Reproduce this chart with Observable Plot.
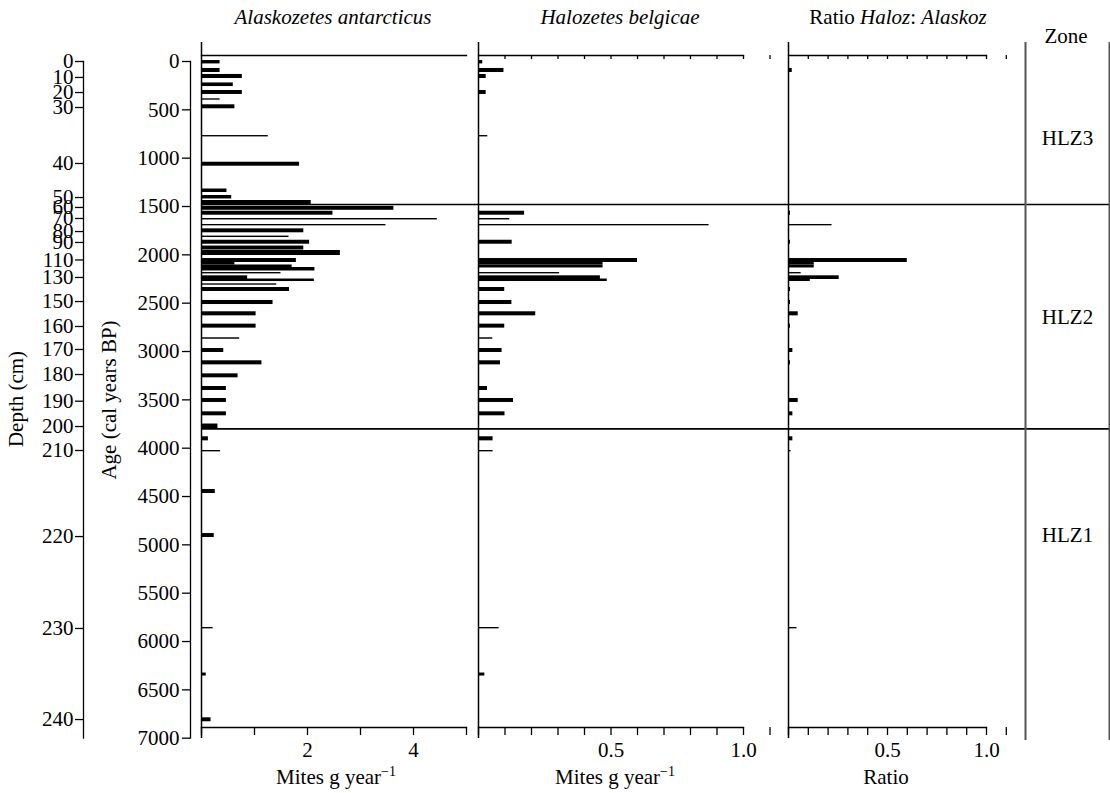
<!DOCTYPE html>
<html><head><meta charset="utf-8">
<script src="https://cdn.jsdelivr.net/npm/d3@7"></script>
<script src="https://cdn.jsdelivr.net/npm/@observablehq/plot@0.6"></script>
<style>
body{margin:0;background:#fff;}
#chart{position:relative;width:1110px;height:793px;}
#chart svg{position:absolute;left:0;top:0;overflow:visible;font-family:"Liberation Serif",serif !important;font-size:21px !important;}
#chart svg text, #chart svg tspan{font-family:"Liberation Serif",serif !important;}
#chart svg tspan.sup{font-size:14px !important;}
</style></head><body><div id="chart"></div>
<script>
const W = 1110, H = 793;
// Sample age intervals (cal years BP)
const sampleAgeTop    = [-10, 72,134,222,300,386,448,766,1042,1319,1386,1438,1498,1549,1624,1686,1731,1806,1849,1909,1955,2038,2079,2105,2131,2183,2217,2250,2300,2338,2472,2589,2717,2858,2969,3096,3231,3362,3486,3624,3750,3882,4024,4427,4883,5855,6326,6789];
const sampleAgeBottom = [ 25,114,176,259,341,400,489,780,1083,1355,1422,1490,1539,1590,1639,1700,1772,1821,1890,1950,2007,2079,2105,2136,2167,2197,2255,2276,2314,2379,2514,2631,2758,2873,3010,3138,3272,3403,3527,3665,3802,3924,4038,4469,4924,5869,6357,6830];
// Alaskozetes antarcticus (mites g year-1)
const alaskozetes = [0.35,0.35,0.77,0.60,0.77,0.35,0.63,1.26,1.85,0.48,0.57,2.07,3.63,2.48,4.45,3.48,1.93,1.65,2.04,1.93,2.62,1.79,0.63,1.71,2.14,1.50,0.87,2.13,1.42,1.66,1.35,1.03,1.03,0.72,0.42,1.14,0.69,0.47,0.47,0.47,0.31,0.13,0.36,0.26,0.24,0.22,0.09,0.18];
// Halozetes belgicae (mites g year-1)
const halozetes = [0.016,0.096,0.029,0,0.029,0,0,0.035,0,0,0,0,0,0.174,0.118,0.87,0,0,0.127,0,0,0.60,0.47,0.47,0,0.306,0.46,0.486,0,0.099,0.126,0.216,0.099,0.054,0.089,0.083,0,0.034,0.132,0.10,0,0.055,0.055,0,0,0.078,0.024,0];
// Ratio Haloz : Alaskoz
const ratio = [0,0.019,0,0,0,0,0,0,0,0,0,0,0,0.01,0,0.22,0,0,0.01,0,0,0.60,0.13,0.13,0,0.064,0.256,0.11,0,0.01,0.01,0.049,0.01,0,0.022,0.01,0,0,0.049,0.022,0,0.022,0.013,0,0,0.043,0.005,0];

const ageTicks = [0,500,1000,1500,2000,2500,3000,3500,4000,4500,5000,5500,6000,6500,7000];
const depthLabels = [0,10,20,30,40,50,60,70,80,90,110,130,150,160,170,180,190,200,210,220,230,240];
const depthAges   = [0,165,321,476,1055,1407,1510,1624,1759,1872,2053,2234,2483,2741,2979,3238,3514,3776,4024,4914,5865,6807];
const alaskTicks = [0,1,2,3,4,5];
const alaskTickLabels = [2,4];
const fracTicks = [0,0.1,0.2,0.3,0.4,0.5,0.6,0.7,0.8,0.9,1.0,1.1];
const fracTopTicks = [0.1,0.2,0.3,0.4,0.5,0.6,0.7,0.8,0.9,1.0,1.1];
const fracTickLabels = [0.5,1.0];
const zoneBoundaryAges = [1480,3800];
const zoneNames = ["HLZ3","HLZ2","HLZ1"];
const zoneLabelAges = [797,2648,4903];

const samples = sampleAgeTop.map((t,i)=>({top:t, bottom:sampleAgeBottom[i], a:alaskozetes[i], h:halozetes[i], r:ratio[i]}));

const FONT = "'Liberation Serif', serif";
const baseStyle = {background:"transparent", fontFamily:FONT, fontSize:"21px", color:"black", overflow:"visible"};
const Y = {domain:[0,7000], range:[61,737.7], axis:null};
const chart = document.getElementById("chart");

function panel(key, domain, left, right, bottomTicks, labelVals, fmt, topTicks) {
  const marks = [
    Plot.rect(samples, {filter:d=>d[key]>0, x1:0, x2:d=>d[key], y1:"top", y2:"bottom", fill:"black"}),
    Plot.frame({anchor:"top", stroke:"black", strokeWidth:1.3}),
    Plot.frame({anchor:"bottom", stroke:"black", strokeWidth:1.3}),
    Plot.ruleX([domain[0]], {stroke:"black", strokeWidth:1.5, insetTop:-13, insetBottom:-11}),
    Plot.axisX({anchor:"bottom", ticks:bottomTicks, tickSize:8, tickPadding:7, label:null, strokeWidth:1.3,
      fontFamily:FONT, fontSize:21, tickFormat:d=>labelVals.includes(d)?fmt(d):""})
  ];
  if (topTicks) marks.push(Plot.tickX(topTicks, {x:d=>d, stroke:"black", strokeWidth:1.3, insetBottom:668}));
  return Plot.plot({
    width:W, height:H, marginLeft:left, marginRight:W-right, marginTop:55, marginBottom:66,
    x:{domain, axis:null}, y:Y, style:baseStyle, marks
  });
}

chart.append(panel("a",[0,5],201,466,alaskTicks,alaskTickLabels,d=>String(d),null));
chart.append(panel("h",[0,1],478,743,fracTicks,fracTickLabels,d=>d.toFixed(1),fracTopTicks));
chart.append(panel("r",[0,1],788,986,fracTicks,fracTickLabels,d=>d.toFixed(1),fracTopTicks));

// Age axis
chart.append(Plot.plot({
  width:W, height:H, marginLeft:190, marginRight:W-191, marginTop:61, marginBottom:H-737.7,
  y:Y, x:{axis:null}, style:baseStyle,
  marks:[
    Plot.frame({anchor:"left", stroke:"black", strokeWidth:1.3}),
    Plot.axisY({anchor:"left", ticks:ageTicks, tickSize:8, tickPadding:3, label:null, strokeWidth:1.3,
      fontFamily:FONT, fontSize:21, tickFormat:d=>String(d)})
  ]
}));
// Depth axis
const depthOf = new Map(depthAges.map((a,i)=>[a, depthLabels[i]]));
chart.append(Plot.plot({
  width:W, height:H, marginLeft:83, marginRight:W-84, marginTop:61, marginBottom:H-737.7,
  y:Y, x:{axis:null}, style:baseStyle,
  marks:[
    Plot.frame({anchor:"left", stroke:"black", strokeWidth:1.3}),
    Plot.axisY(depthAges, {anchor:"left", tickSize:8, tickPadding:2, label:null, strokeWidth:1.3,
      fontFamily:FONT, fontSize:21, tickFormat:d=>String(depthOf.get(d))})
  ]
}));
// Zone boundaries across panels
chart.append(Plot.plot({
  width:W, height:H, marginLeft:201, marginRight:0, marginTop:55, marginBottom:66,
  y:Y, x:{axis:null}, style:baseStyle,
  marks:[ Plot.ruleY(zoneBoundaryAges, {y:d=>d, stroke:"black", strokeWidth:1.6}) ]
}));
// Zone column
chart.append(Plot.plot({
  width:W, height:H, marginLeft:1025, marginRight:1, marginTop:55, marginBottom:66,
  y:Y, x:{domain:[0,1], axis:null}, style:baseStyle,
  marks:[
    Plot.ruleX([0,1], {stroke:"#555", strokeWidth:2, insetTop:-13, insetBottom:-13}),
    Plot.text(zoneNames, {y:(d,i)=>zoneLabelAges[i], text:d=>d, frameAnchor:"middle", fontSize:21, fontFamily:FONT})
  ]
}));

// Titles and axis labels
const ann = d3.select(chart).append("svg").attr("width",W).attr("height",H)
  .attr("font-family",FONT).attr("font-size",21);
function t(x,y,anchor){return ann.append("text").attr("x",x).attr("y",y).attr("text-anchor",anchor||"middle").attr("fill","black");}
t(333,24).attr("font-style","italic").text("Alaskozetes antarcticus");
t(620,24).attr("font-style","italic").text("Halozetes belgicae");
const r = t(898,24);
r.append("tspan").text("Ratio ");
r.append("tspan").attr("font-style","italic").text("Haloz");
r.append("tspan").text(": ");
r.append("tspan").attr("font-style","italic").text("Alaskoz");
t(1066,43).text("Zone");
function mites(x){
  const m = t(x,784);
  m.append("tspan").text("Mites g year");
  m.append("tspan").attr("class","sup").attr("dy",-8).text("\u22121");
}
mites(336); mites(615);
t(886,784).text("Ratio");
ann.append("text").attr("transform","translate(23,399) rotate(-90)").attr("text-anchor","middle").text("Depth (cm)");
ann.append("text").attr("transform","translate(116,400) rotate(-90)").attr("text-anchor","middle").text("Age (cal years BP)");
</script></body></html>
